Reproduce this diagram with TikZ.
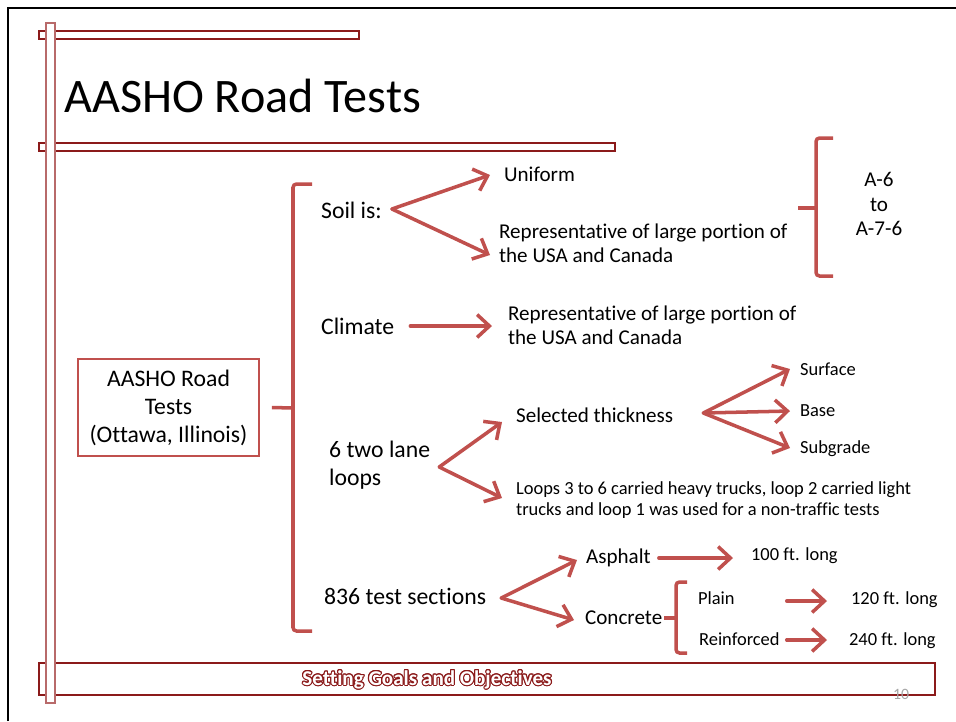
\documentclass[tikz,border=0pt]{standalone}
\usepackage{fontspec}
\setmainfont[Ligatures={NoCommon}]{Carlito}
\usepackage{contour}
\usepackage{tikz}
\usetikzlibrary{arrows.meta,calc}
\definecolor{ink}{HTML}{000000}
\definecolor{accent}{HTML}{C0504D}
\definecolor{deco}{HTML}{8B1A1A}
\definecolor{decoLight}{HTML}{B86A6A}
\definecolor{quiet}{HTML}{A6A6A6}
\newcommand{\bigsz}{\fontsize{13.5}{15.9}\selectfont}
\newcommand{\midsz}{\fontsize{12}{13.7}\selectfont}
\newcommand{\smallsz}{\fontsize{10.5}{12}\selectfont}
\contourlength{0.6pt}
\tikzset{go/.style={draw=accent,line width=2pt,line cap=round,-{Straight Barb[length=7pt,width=13pt]}},
  brace/.style={draw=accent,line width=2pt,rounded corners=2pt},
  bar/.style={draw=deco,fill=white,line width=0.6pt},
  txt/.style={anchor=west,inner sep=1pt,align=left,font=\midsz,text=ink},
  big/.style={txt,font=\bigsz},
  tiny/.style={txt,font=\smallsz},
  box/.style={draw=accent,line width=1.1pt,align=center,font=\bigsz,
    minimum width=3.62cm,minimum height=1.94cm,inner sep=0pt}}

\begin{document}
\begin{tikzpicture}[x=0.02cm,y=-0.02cm]
  \useasboundingbox (0,0) rectangle (956,721);
  % slide frame and bars
  \draw[line width=1.7pt] (8,721) -- (8,8) -- (956,8);
  \draw[bar] (39,31) rectangle (359,39);
  \draw[bar] (39,143) rectangle (615,151);
  \draw[bar] (39,663) rectangle (935,695);
  \draw[bar,draw=decoLight] (46,23) rectangle (55,703);
  \node[anchor=base west,inner sep=0pt,font=\fontsize{27.4}{32}\selectfont] (title) at (64,112) {AASHO Road Tests};
  \node[font=\fontsize{12}{13}\selectfont\bfseries,text=white] (foot) at (427,680) {\contour{deco}{Setting Goals and Objectives}};
  \node[font=\fontsize{9}{10}\selectfont,text=quiet] (pnum) at (901,694) {10};

  % main box and brace
  \node[box] (aasho) at (168.5,407.5) {AASHO Road\\Tests\\(Ottawa, Illinois)};
  \draw[brace] (312,184) -- (293,184) -- (293,631) -- (312,631);
  \draw[brace] ($(aasho.east)+(12,0)$) -- (293,408);

  % soil
  \node[big] (soil) at (319,210) {Soil is:};
  \node[txt] (unif) at (502,174) {Uniform};
  \node[txt] (rep1) at (497,243) {Representative of large portion of\\the USA and Canada};
  \node[txt,anchor=center,align=center,font=\fontsize{12}{14.2}\selectfont] (agrp) at (879,204) {A-6\\to\\A-7-6};
  \draw[go] ($(soil.east)+(8,-1)$) -- ($(unif.west)+(-12,1)$);
  \draw[go] ($(soil.east)+(8,-1)$) -- ($(rep1.west)+(-7,12)$);
  \draw[brace] (833,138) -- (816,138) -- (816,276) -- (833,276);
  \draw[brace] (798,208) -- (816,208);

  % climate
  \node[big] (clim) at (319,326) {Climate};
  \node[txt] (rep2) at (506,325) {Representative of large portion of\\the USA and Canada};
  \draw[go] ($(clim.east)+(14,0)$) -- ($(rep2.west)+(-14,1)$);

  % loops
  \node[big] (loops) at (327,465) {6 two lane\\loops};
  \node[txt] (thick) at (514,415) {Selected thickness};
  \node[tiny] (note) at (514,500) {Loops 3 to 6 carried heavy trucks, loop 2 carried light\\trucks and loop 1 was used for a non-traffic tests};
  \draw[go] ($(loops.east)+(7,2)$) -- ($(thick.west)+(-12,7)$);
  \draw[go] ($(loops.east)+(7,2)$) -- ($(note.west)+(-12,-2)$);
  \node[tiny] (surf) at (798,369) {Surface};
  \node[tiny] (base) at (798,411) {Base};
  \node[tiny] (subg) at (798,449) {Subgrade};
  \draw[go] ($(thick.east)+(28,-2)$) -- ($(surf.west)+(-8,0)$);
  \draw[go] ($(thick.east)+(28,-2)$) -- ($(base.west)+(-8,0)$);
  \draw[go] ($(thick.east)+(28,-2)$) -- ($(subg.west)+(-8,-1)$);

  % test sections
  \node[big] (sect) at (322,596) {836 test sections};
  \node[txt] (asph) at (584,558) {Asphalt};
  \node[txt] (conc) at (583,618) {Concrete};
  \draw[go] ($(sect.east)+(13,2)$) -- ($(asph.west)+(-7,2)$);
  \draw[go] ($(sect.east)+(13,2)$) -- ($(conc.west)+(-9,2)$);
  \node[tiny] (l100) at (749,556) {100 ft. long};
  \draw[go] ($(asph.east)+(6,0)$) -- ($(l100.west)+(-16,2)$);
  \draw[brace] (687,582) -- (676,582) -- (676,653) -- (687,653);
  \draw[brace] (conc.east) -- (676,618);
  \node[tiny] (plain) at (696,598) {Plain};
  \node[tiny] (reinf) at (697,639) {Reinforced};
  \node[tiny] (l120) at (849,600) {120 ft. long};
  \node[tiny] (l240) at (847,641) {240 ft. long};
  \draw[go] ($(plain.east)+(50,3)$) -- ($(l120.west)+(-22,1)$);
  \draw[go] ($(reinf.east)+(5,1)$) -- ($(l240.west)+(-20,-1)$);
\end{tikzpicture}
\end{document}
